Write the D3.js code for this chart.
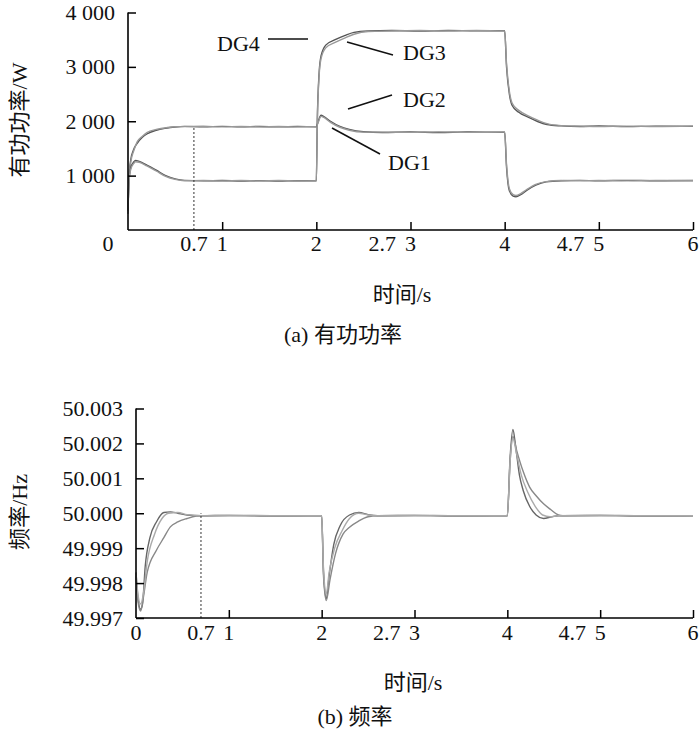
<!DOCTYPE html>
<html><head><meta charset="utf-8">
<script src="https://cdn.jsdelivr.net/npm/d3@7"></script>
<style>
body{margin:0;background:#fff;}
svg{display:block;}
text{font-family:"Liberation Serif","Times New Roman","Noto Sans CJK SC",serif;fill:#111;}
.cjk{font-family:"Liberation Serif","Noto Sans CJK SC",serif;}
</style></head>
<body>
<svg id="c" width="700" height="734"></svg>
<script>
// ---------- DATA ----------
const timeTicks = [1, 2, 3, 4, 5, 6];
const timeLabels = [0, 0.7, 1, 2, 2.7, 3, 4, 4.7, 5, 6];
const powerTicks = [1000, 2000, 3000, 4000];
const powerTickLabels = ["1 000", "2 000", "3 000", "4 000"];
const freqTicks = [49.997, 49.998, 49.999, 50.000, 50.001, 50.002, 50.003];
const markerTime = 0.7;

// active power (W): [time s, value]
const dg1 = [[0,350],[0.01,950],[0.03,1300],[0.06,1480],[0.1,1600],[0.15,1700],[0.2,1765],[0.3,1835],[0.4,1872],[0.5,1895],[0.6,1905],[0.8,1898],[1.0,1906],[1.2,1897],[1.4,1904],[1.6,1896],[1.8,1903],[1.995,1900],
 [2.0,1900],[2.02,2000],[2.05,2110],[2.08,2085],[2.15,2000],[2.25,1905],[2.35,1850],[2.5,1808],[2.7,1794],[3.0,1802],[3.3,1793],[3.6,1803],[3.995,1797],
 [4.0,1797],[4.02,1150],[4.05,720],[4.09,625],[4.12,612],[4.17,650],[4.23,725],[4.33,825],[4.44,885],[4.6,906],[4.8,912],[5.0,905],[5.3,913],[5.6,905],[6.0,910]];
const dg2 = [[0,300],[0.01,900],[0.03,1250],[0.06,1450],[0.1,1630],[0.15,1720],[0.2,1790],[0.3,1850],[0.4,1880],[0.5,1900],[0.6,1902],[0.8,1907],[1.0,1897],[1.2,1904],[1.4,1896],[1.6,1905],[1.8,1897],[1.995,1902],
 [2.0,1902],[2.02,1980],[2.05,2090],[2.08,2070],[2.15,1980],[2.25,1890],[2.35,1835],[2.5,1800],[2.7,1800],[3.0,1795],[3.3,1804],[3.6,1796],[3.995,1801],
 [4.0,1801],[4.02,1200],[4.05,760],[4.09,650],[4.12,635],[4.17,670],[4.23,740],[4.33,840],[4.44,890],[4.6,910],[4.8,905],[5.0,912],[5.3,904],[5.6,911],[6.0,906]];
const dg3 = [[0,350],[0.01,900],[0.03,1150],[0.06,1250],[0.08,1280],[0.12,1262],[0.2,1195],[0.3,1100],[0.4,1000],[0.5,940],[0.6,912],[0.8,903],[1.0,910],[1.2,900],[1.4,908],[1.6,899],[1.8,907],[1.995,903],
 [2.0,903],[2.01,2000],[2.03,2900],[2.05,3200],[2.1,3400],[2.2,3500],[2.3,3575],[2.4,3635],[2.55,3660],[2.8,3668],[3.1,3660],[3.4,3670],[3.7,3662],[3.995,3666],
 [4.0,3666],[4.02,3000],[4.05,2500],[4.08,2290],[4.15,2165],[4.25,2075],[4.35,1995],[4.45,1940],[4.6,1915],[4.8,1903],[5.0,1912],[5.3,1902],[5.6,1911],[6.0,1905]];
const dg4 = [[0,300],[0.01,880],[0.03,1120],[0.06,1220],[0.08,1255],[0.12,1245],[0.2,1180],[0.3,1085],[0.4,985],[0.5,930],[0.6,906],[0.8,909],[1.0,902],[1.2,910],[1.4,901],[1.6,909],[1.8,900],[1.995,906],
 [2.0,906],[2.01,1950],[2.03,2850],[2.05,3150],[2.1,3350],[2.2,3450],[2.3,3530],[2.4,3600],[2.55,3650],[2.8,3660],[3.1,3670],[3.4,3661],[3.7,3669],[3.995,3662],
 [4.0,3662],[4.02,3050],[4.05,2550],[4.08,2330],[4.15,2200],[4.25,2100],[4.35,2020],[4.45,1955],[4.6,1920],[4.8,1910],[5.0,1902],[5.3,1911],[5.6,1903],[6.0,1912]];

// frequency (Hz): [time s, value]
const f1 = [[0,49.9983],[0.02,49.9976],[0.05,49.99725],[0.07,49.9974],[0.1,49.9985],[0.15,49.9993],[0.22,49.99975],[0.3,50.00002],[0.37,50.00004],[0.45,50.0000],[0.55,49.99995],[0.7,49.99993],[1.0,49.99994],[1.5,49.99992],[1.995,49.99993],
 [2.0,49.99993],[2.02,49.9983],[2.05,49.99755],[2.08,49.9982],[2.13,49.9991],[2.2,49.99965],[2.3,49.99995],[2.4,50.00002],[2.5,49.99996],[2.6,49.99993],[3.0,49.99994],[3.5,49.99992],[3.995,49.99993],
 [4.0,49.99993],[4.03,50.0016],[4.06,50.0024],[4.09,50.0019],[4.13,50.0011],[4.17,50.00066],[4.24,50.0002],[4.31,49.99995],[4.39,49.99985],[4.48,49.9999],[4.55,49.99993],[5.0,49.99994],[5.5,49.99992],[6.0,49.99993]];
const f2 = [[0,49.9982],[0.02,49.9975],[0.05,49.9972],[0.08,49.9976],[0.12,49.9983],[0.22,49.99894],[0.3,49.9993],[0.37,49.99961],[0.45,49.99975],[0.55,49.99985],[0.65,49.99992],[0.7,49.99993],[1.2,49.99994],[1.7,49.99992],[1.995,49.99993],
 [2.0,49.99993],[2.02,49.9982],[2.05,49.9975],[2.09,49.9981],[2.15,49.99885],[2.23,49.9994],[2.3,49.9996],[2.4,49.99978],[2.5,49.9999],[2.6,49.99993],[3.2,49.99994],[3.7,49.99992],[3.995,49.99993],
 [4.0,49.99993],[4.03,50.0015],[4.06,50.0022],[4.1,50.0018],[4.17,50.0012],[4.24,50.00075],[4.31,50.0005],[4.39,50.00027],[4.47,50.0001],[4.55,49.99995],[4.6,49.99993],[5.2,49.99994],[5.7,49.99992],[6.0,49.99993]];
const f3 = [[0,49.9983],[0.02,49.9977],[0.05,49.9974],[0.08,49.9977],[0.12,49.9986],[0.2,49.9994],[0.28,49.99985],[0.35,50.0000],[0.45,50.00002],[0.55,49.99996],[0.7,49.99993],[1.3,49.99993],[1.995,49.99993],
 [2.0,49.99993],[2.02,49.9984],[2.05,49.9977],[2.08,49.9983],[2.14,49.9990],[2.22,49.9995],[2.3,49.99985],[2.4,50.0000],[2.5,49.99995],[2.6,49.99993],[3.3,49.99993],[3.995,49.99993],
 [4.0,49.99993],[4.03,50.0015],[4.06,50.00215],[4.1,50.0017],[4.15,50.0011],[4.22,50.0006],[4.3,50.0002],[4.38,49.99995],[4.46,49.9999],[4.55,49.99993],[5.4,49.99993],[6.0,49.99993]];

// ---------- DRAW ----------
const svg = d3.select("#c");
const FS = 22;

function panel(cfg){
  const g = svg.append("g");
  const x = d3.scaleLinear().domain([0,6]).range(cfg.xr);
  const y = d3.scaleLinear().domain(cfg.yd).range(cfg.yr);
  const y0 = cfg.yr[0];
  const line = d3.line().x(d=>x(d[0])).y(d=>y(d[1])).curve(d3.curveMonotoneX);
  cfg.series.forEach((s,i)=>{
    g.append("path").attr("d", line(s)).attr("fill","none")
     .attr("stroke", cfg.colors[i]).attr("stroke-width",1.4).attr("stroke-linejoin","round");
  });
  g.append("line").attr("x1",x(markerTime)).attr("x2",x(markerTime))
   .attr("y1",y0).attr("y2",y(cfg.markerTop))
   .attr("stroke","#333").attr("stroke-width",1).attr("stroke-dasharray","2,2");
  const ax = d3.axisBottom(x).tickValues(timeTicks).tickSize(-8).tickFormat("");
  const gx = g.append("g").attr("transform",`translate(0,${y0})`).call(ax);
  gx.select(".domain").attr("stroke","#000").attr("stroke-width",1.6).attr("d",`M${cfg.xr[0]},0H${cfg.xr[1]}`);
  gx.selectAll(".tick line").attr("stroke","#000").attr("stroke-width",1.5);
  timeLabels.forEach(t=>{
    const px = (t===0 && cfg.zeroX!==undefined) ? cfg.zeroX : x(t);
    g.append("text").attr("x",px).attr("y",y0+cfg.xLabDy).attr("text-anchor","middle")
     .attr("font-size",FS).text(t);
  });
  const ay = d3.axisLeft(y).tickValues(cfg.yTicks).tickSize(-8).tickFormat((d,i)=>cfg.yLabels[i]).tickPadding(13);
  const gy = g.append("g").attr("transform",`translate(${cfg.xr[0]},0)`).call(ay);
  gy.select(".domain").attr("stroke","#000").attr("stroke-width",1.6).attr("d",`M0,${y0}V${y(cfg.yd[1])}`);
  gy.selectAll(".tick line").attr("stroke","#000").attr("stroke-width",1.5);
  gy.selectAll(".tick text").attr("font-size",FS).attr("font-family",'"Liberation Serif",serif').attr("fill","#111");
  g.append("text").attr("class","cjk").attr("transform",`translate(${cfg.yTitle[0]},${cfg.yTitle[1]}) rotate(-90)`)
   .attr("text-anchor","middle").attr("font-size",FS).text(cfg.yTitleText);
  g.append("text").attr("class","cjk").attr("x",cfg.xTitle[0]).attr("y",cfg.xTitle[1]).attr("text-anchor","middle")
   .attr("font-size",FS).text("时间/s");
  g.append("text").attr("class","cjk").attr("x",cfg.cap[0]).attr("y",cfg.cap[1]).attr("text-anchor","middle")
   .attr("font-size",FS).text(cfg.capText);
  return {g,x,y};
}

const topPanel = panel({
  xr:[128,693], yd:[0,4000], yr:[230,12.5],
  series:[dg1,dg2,dg3,dg4], colors:["#555","#999","#555","#999"],
  markerTop:1900, zeroX:108, xLabDy:21,
  yTicks:powerTicks, yLabels:powerTickLabels,
  yTitle:[27,120], yTitleText:"有功功率/W",
  xTitle:[402,302], cap:[343,342], capText:"(a) 有功功率"
});
const botPanel = panel({
  xr:[136,693], yd:[49.997,50.003], yr:[618,408.5],
  series:[f1,f2,f3], colors:["#666","#888","#aaa"],
  markerTop:50.0, xLabDy:22,
  yTicks:freqTicks, yLabels:freqTicks.map(d=>d.toFixed(3)),
  yTitle:[27,512], yTitleText:"频率/Hz",
  xTitle:[413,690], cap:[355,724], capText:"(b) 频率"
});

const ann = [
  {name:"DG4", tx:217, ty:51, l:[268,39,308,39]},
  {name:"DG3", tx:403, ty:60, l:[347,42,393,55]},
  {name:"DG2", tx:403, ty:107, l:[348,109,392,95]},
  {name:"DG1", tx:388, ty:170, l:[332,128,380,154]}
];
ann.forEach(a=>{
  topPanel.g.append("line").attr("x1",a.l[0]).attr("y1",a.l[1]).attr("x2",a.l[2]).attr("y2",a.l[3])
   .attr("stroke","#111").attr("stroke-width",1.5);
  topPanel.g.append("text").attr("x",a.tx).attr("y",a.ty).attr("font-size",FS).text(a.name);
});
</script>
</body></html>
